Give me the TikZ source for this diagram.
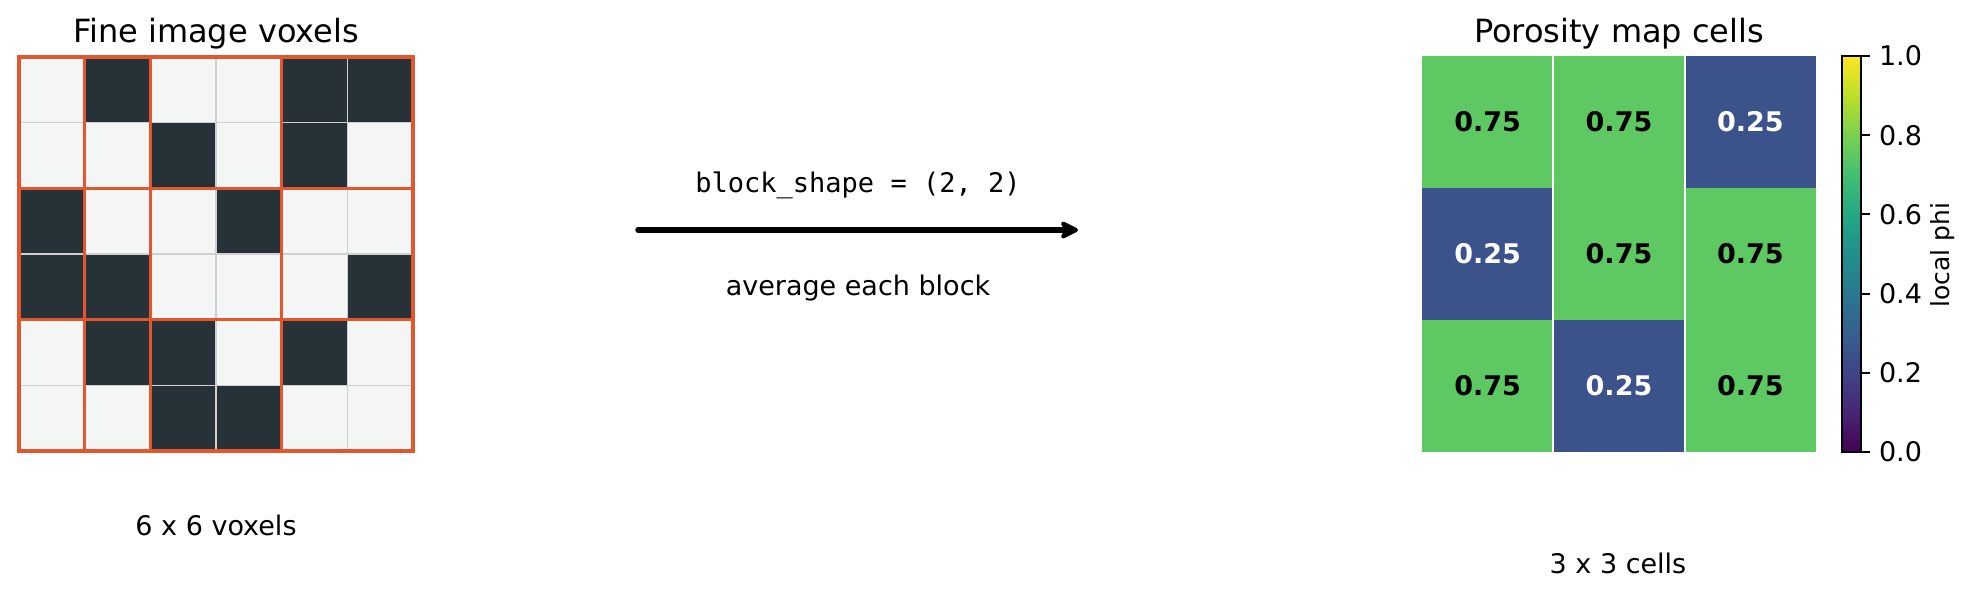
\documentclass[tikz,border=0pt]{standalone}
\usepackage{fontspec}
\setmainfont{DejaVu Sans}
\setmonofont{DejaVu Sans Mono}
\usepackage{tikz}
\usetikzlibrary{positioning, arrows.meta}

\definecolor{voxdark}{HTML}{263238}
\definecolor{voxlight}{HTML}{F4F6F5}
\definecolor{voxgrid}{HTML}{D0D0D0}
\definecolor{blockline}{HTML}{E4572E}
\definecolor{phihigh}{HTML}{5EC962}
\definecolor{philow}{HTML}{3B528B}
\definecolor{vir0}{HTML}{440154}
\definecolor{vir1}{HTML}{482576}
\definecolor{vir2}{HTML}{414487}
\definecolor{vir3}{HTML}{35608D}
\definecolor{vir4}{HTML}{2A788E}
\definecolor{vir5}{HTML}{21908C}
\definecolor{vir6}{HTML}{22A884}
\definecolor{vir7}{HTML}{43BF71}
\definecolor{vir8}{HTML}{7AD151}
\definecolor{vir9}{HTML}{BBDF27}
\definecolor{vir10}{HTML}{FDE725}

\begin{document}
\begin{tikzpicture}[
      x=1pt, y=-1pt,
      ttl/.style={font=\fontsize{32}{38}\selectfont, anchor=base},
      lbl/.style={font=\fontsize{27}{32}\selectfont, anchor=base},
      vox/.style={draw=voxgrid, line width=1.5pt, minimum size=65.67pt, inner sep=0pt,
                  outer sep=0pt, anchor=north west},
      vx0/.style={fill=voxlight},
      vx1/.style={fill=voxdark},
      blk/.style={draw=blockline, line width=3.5pt},
      cell/.style={minimum width=131.33pt, minimum height=132pt, inner sep=0pt, outer sep=0pt,
                   anchor=north west, font=\fontsize{27}{32}\selectfont\bfseries},
      cell75/.style={fill=phihigh, text=black},
      cell25/.style={fill=philow, text=white},
      sep/.style={draw=white, line width=2pt},
      arr/.style={-{Stealth[length=22pt, width=22pt, inset=6pt, round]}, line width=5.5pt, line cap=round},
      tick/.style={line width=2pt},
      tlab/.style={font=\fontsize{27}{32}\selectfont, anchor=west, inner sep=0pt},
    ]
    \useasboundingbox (0,0) rectangle (1974,597);
    % ── 細かいボクセル画像 ──
    \foreach \row [count=\r from 0] in {{0,1,0,0,1,1},{0,0,1,0,1,0},{1,0,0,1,0,0},
                                        {1,1,0,0,0,1},{0,1,1,0,1,0},{0,0,1,1,0,0}}
      \foreach \v [count=\c from 0] in \row
        \node[vox, vx\v] (v\r\c) at (19+\c*65.67, 57+\r*65.67) {};
    \foreach \i [evaluate=\i as \ra using int(2*\i), evaluate=\i as \rb using int(2*\i+1)] in {0,1,2}
      \foreach \j [evaluate=\j as \ca using int(2*\j), evaluate=\j as \cb using int(2*\j+1)] in {0,1,2}
        \draw[blk] (v\ra\ca.north west) rectangle (v\rb\cb.south east);
    \node[ttl] (tv) at (216,42) {Fine image voxels};
    \node[lbl] (nv) at (216,535) {6 x 6 voxels};
    % ── 変換 ──
    \coordinate (arrS) at (638,230);
    \coordinate (arrE) at (1078,230);
    \draw[arr] (arrS) -- (arrE);
    \node[lbl, font=\fontsize{27}{32}\selectfont\ttfamily] (bs) at (858,192) {block\_shape = (2, 2)};
    \node[lbl] (avg) at (858,295) {average each block};
    % ── 空隙率マップ ──
    \foreach \row [count=\r from 0] in {{75,75,25},{25,75,75},{75,25,75}}
      \foreach \v [count=\c from 0] in \row
        \node[cell, cell\v] (m\r\c) at (1422+\c*131.33, 56+\r*132) {0.\v};
    \foreach \c in {0,1}
      \draw[sep] (m0\c.north east) -- (m2\c.south east);
    \node[ttl] (tm) at (1619,42) {Porosity map cells};
    \node[lbl] (nm) at (1618,573) {3 x 3 cells};
    % ── カラーバー ──
    \foreach \k [evaluate=\k as \kk using int(\k+1)] in {0,...,9}
      \shade[bottom color=vir\k, top color=vir\kk] (1842,452-\k*39.6) rectangle (1861,452-\kk*39.6);
    \node[draw, line width=1.5pt, minimum width=19pt, minimum height=396pt, inner sep=0pt,
          outer sep=0pt, anchor=north west] (cb) at (1842,56) {};
    \foreach \t [count=\k from 0] in {0.0,0.2,0.4,0.6,0.8,1.0}
      \draw[tick] (1861,452-\k*79.2) -- ++(9,0) node[tlab, xshift=8pt] (tk\k) {\t};
    \node[font=\fontsize{25}{30}\selectfont, rotate=90] (cbl) at (1943,255) {local phi};
  \end{tikzpicture}
\end{document}
